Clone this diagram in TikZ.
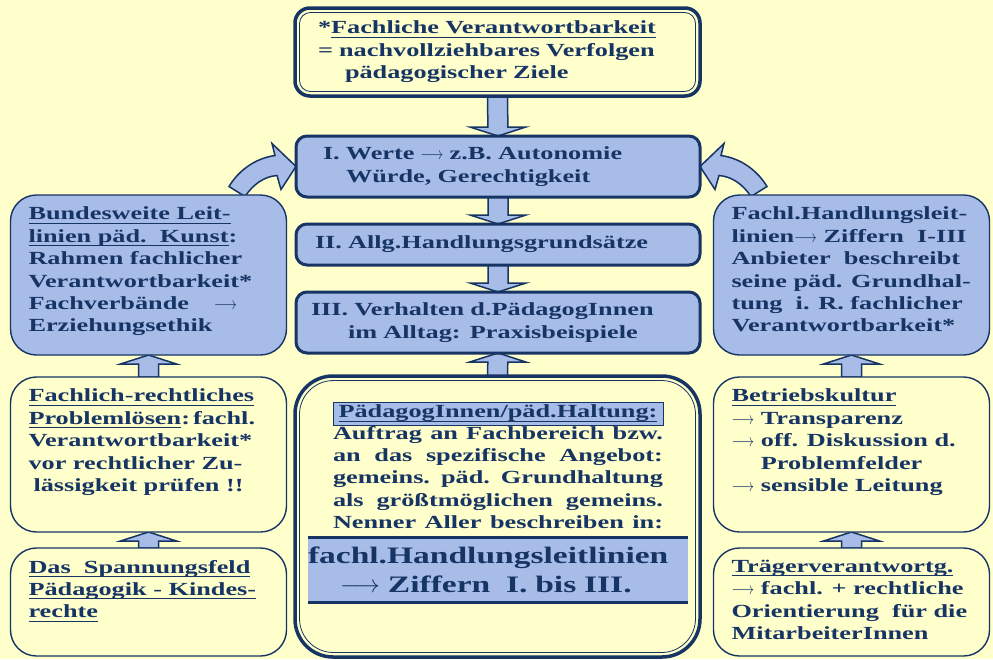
\documentclass[tikz,border=0pt]{standalone}
\usepackage{fontspec}
\setmainfont{Liberation Serif}[FakeStretch=1.42]
\usetikzlibrary{calc,backgrounds}

\definecolor{navy}{RGB}{22,52,100}
\definecolor{boxblue}{RGB}{168,188,232}
\definecolor{bgyellow}{RGB}{255,255,204}

% block arrow from #1 to #2 (vertical)
\newcommand{\fatarrow}[2]{%
  \draw[fatarrow] ($(#1)+(-10pt,0)$) -- ($(#2)!9pt!(#1)+(-10pt,0)$)
    -- ($(#2)!9pt!(#1)+(-28pt,0)$) -- (#2)
    -- ($(#2)!9pt!(#1)+(28pt,0)$) -- ($(#2)!9pt!(#1)+(10pt,0)$)
    -- ($(#1)+(10pt,0)$) -- cycle;}
\newcommand{\sidetext}[2]{\parbox[c][#1][t]{240pt}{\raggedright #2}}
\newcommand{\undl}[1]{\leavevmode\setbox0\hbox{#1}\rlap{\vrule height -2.8pt depth 4pt width \wd0}\box0}
\newcommand{\pfeil}{\scalebox{0.82}[1]{$\longrightarrow$}}

\begin{document}
\begin{tikzpicture}[x=1pt, y=-1pt,
  every node/.style={text=navy, font=\bfseries\fontsize{18.5}{22.4}\selectfont, outer sep=0pt},
  stage/.style={draw=navy, line width=3pt, fill=boxblue, rounded corners=11pt,
    minimum width=404pt, text width=374pt, inner xsep=15pt, align=left},
  doublebox/.style={draw=navy, line width=3.5pt, fill=bgyellow},
  side/.style={draw=navy, line width=1.4pt, rounded corners=26pt, inner xsep=18pt, inner ysep=12pt},
  bluebox/.style={side, fill=boxblue},
  yellowbox/.style={side, fill=bgyellow},
  fatarrow/.style={draw=navy, fill=boxblue, line width=1.5pt},
  innerline/.style={draw=navy, line width=0.8pt}]

\useasboundingbox (0,0) rectangle (993,659);

% middle column
\node[doublebox, rounded corners=15pt, minimum width=405pt, minimum height=88pt,
  text width=359pt, inner xsep=23pt, align=left] (ziel) at (497.5,52)
  {*\undl{Fachliche Verantwortbarkeit}\\= nachvollziehbares Verfolgen\\\hspace*{27pt}pädagogischer Ziele};
\draw[innerline, rounded corners=11pt] ([shift={(4.5pt,-4.5pt)}]ziel.north west) rectangle ([shift={(-4.5pt,4.5pt)}]ziel.south east);

\node[stage, minimum height=61pt] (werte) at (498,166.5)
  {\hspace*{12pt}I. Werte \pfeil\ z.B. Autonomie\\\hspace*{35pt}Würde, Gerechtigkeit};
\node[stage, minimum height=41pt] (grundsaetze) at (498,244.5)
  {\hspace*{4pt}II. Allg.Handlungsgrundsätze};
\node[stage, minimum height=61pt] (verhalten) at (498,322.5)
  {III. Verhalten d.PädagogInnen\\\hspace*{37pt}im Alltag: Praxisbeispiele};

\node[doublebox, rounded corners=38pt, minimum width=405pt, minimum height=281pt] (haltung) at (497.5,516.5) {};
\draw[innerline, rounded corners=34pt] ([shift={(4.5pt,-4.5pt)}]haltung.north west) rectangle ([shift={(-4.5pt,4.5pt)}]haltung.south east);
\node[draw=navy, line width=0.8pt, fill=boxblue, minimum width=330pt, minimum height=23pt, inner sep=1pt] (titel) at (498,413.5)
  {\undl{PädagogInnen/päd.Haltung:}};
\node[anchor=north west, inner sep=0pt, align=left] (auftrag) at (333,426)
  {\makebox[330pt][s]{Auftrag an Fachbereich bzw.}\\
   \makebox[330pt][s]{an das spezifische Angebot:}\\
   \makebox[330pt][s]{gemeins. päd. Grundhaltung}\\
   \makebox[330pt][s]{als größtmöglichen gemeins.}\\
   \makebox[330pt][s]{Nenner Aller beschreiben in:}};
\node[fill=boxblue, minimum width=380pt, minimum height=65pt, text width=380pt, inner sep=0pt, align=left,
  font=\bfseries\fontsize{23.6}{29}\selectfont] (band) at (498,569.5)
  {fachl.Handlungsleitlinien\\\hspace*{32pt}$\longrightarrow$ Ziffern\ \ I. bis III.};
\draw[navy, line width=3pt] (band.north west) -- (band.north east) (band.south west) -- (band.south east);

% left column
\node[bluebox] (bund) at (148.5,275) {\sidetext{136pt}{%
  \undl{Bundesweite Leit-}\\
  \undl{linien päd.\ \ Kunst}:\\
  Rahmen fachlicher\\
  Verantwortbarkeit*\\
  Fachverbände \quad\pfeil\\
  Erziehungsethik}};
\node[yellowbox] (problem) at (148.5,454.5) {\sidetext{131pt}{%
  \undl{Fachlich-rechtliches}\\
  \undl{Problemlösen}:\,fachl.\\
  Verantwortbarkeit*\\
  vor rechtlicher Zu-\\
  \hspace*{5pt}lässigkeit prüfen !!}};
\node[yellowbox] (spannung) at (148.5,602) {\sidetext{84pt}{%
  \undl{Das\ \ Spannungsfeld}\\
  \undl{Pädagogik - Kindes-}\\
  \undl{rechte}}};

% right column
\node[bluebox] (leitlinien) at (851.5,275) {\sidetext{136pt}{%
  Fachl.Handlungsleit-\\
  linien\pfeil\ Ziffern\ \ I-III\\
  Anbieter\ \ beschreibt\\
  seine päd. Grundhal-\\
  tung\ \ i. R. fachlicher\\
  Verantwortbarkeit*}};
\node[yellowbox] (kultur) at (851.5,454.5) {\sidetext{131pt}{%
  \undl{Betriebskultur}\\
  \pfeil\ Transparenz\\
  \pfeil\ off. Diskussion d.\\
  \phantom{\pfeil\ }Problemfelder\\
  \pfeil\ sensible Leitung}};
\node[yellowbox] (traeger) at (851.5,602) {\sidetext{84pt}{%
  \undl{Trägerverantwortg.}\\
  \pfeil\ fachl. + rechtliche\\
  Orientierung\ \ für die\\
  MitarbeiterInnen}};

\begin{pgfonlayer}{background}
  \fill[bgyellow] (0,0) rectangle (993,659);
  \foreach \a/\b in {ziel/werte, werte/grundsaetze, grundsaetze/verhalten}
    \fatarrow{\a.south}{\b.north};
  \foreach \a/\b in {haltung/verhalten, problem/bund, spannung/problem, kultur/leitlinien, traeger/kultur}
    \fatarrow{\a.north}{\b.south};
  % curved arrows into box I
  \draw[fatarrow, shift={(werte.west)}] (-67,20) .. controls (-58,5) and (-42,-8) .. (-21,-11)
    -- (-24,-23) -- (0,0) -- (-15,23) -- (-19,9) .. controls (-32,10) and (-43,18) .. (-51,30) -- cycle;
  \draw[fatarrow, shift={(werte.east)}, xscale=-1] (-67,20) .. controls (-58,5) and (-42,-8) .. (-21,-11)
    -- (-24,-23) -- (0,0) -- (-15,23) -- (-19,9) .. controls (-32,10) and (-43,18) .. (-51,30) -- cycle;
\end{pgfonlayer}
\end{tikzpicture}
\end{document}
